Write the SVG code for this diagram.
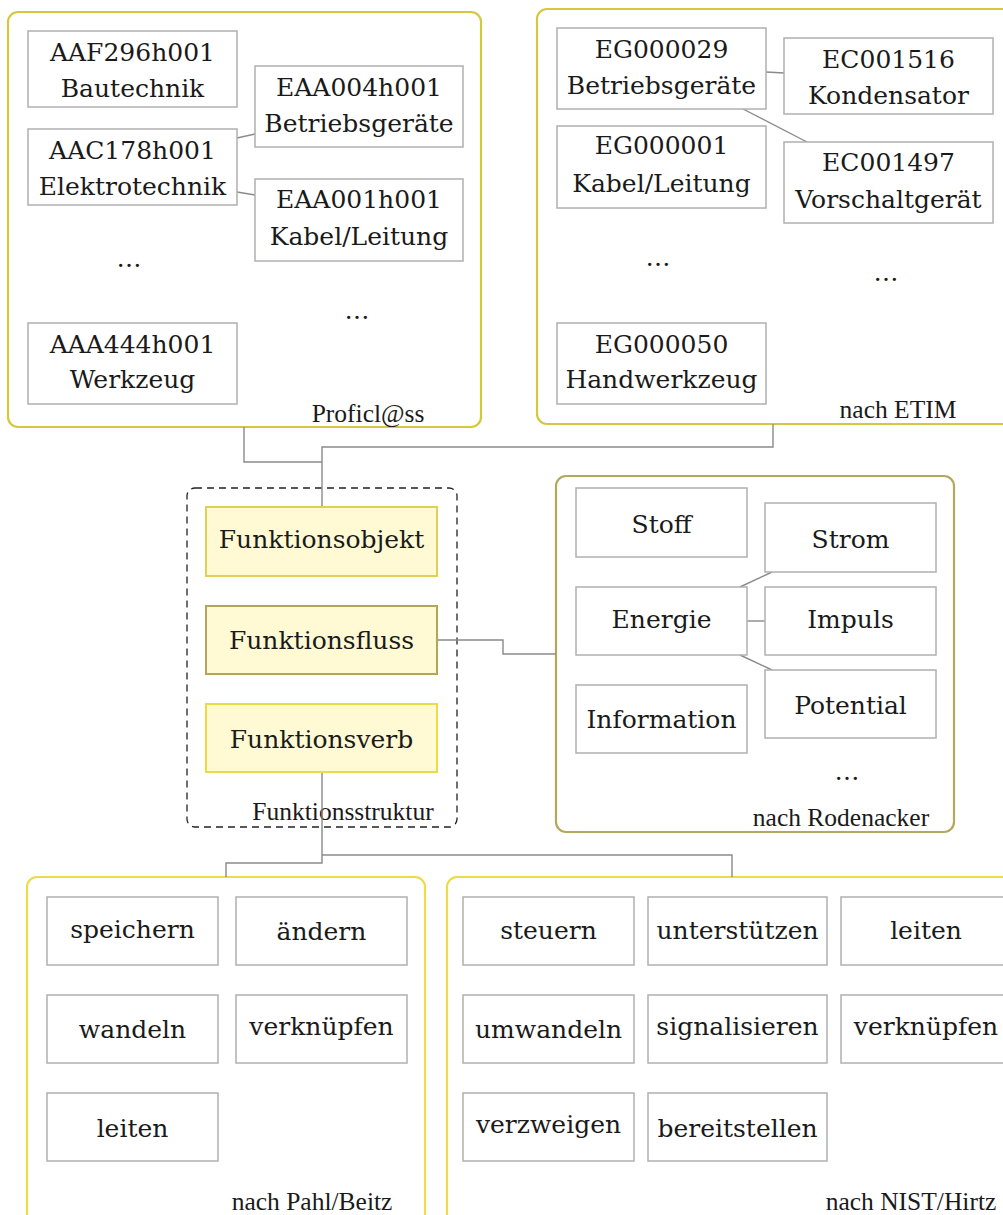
<svg xmlns="http://www.w3.org/2000/svg" width="1003" height="1215" viewBox="0 0 1003 1215">
  <style>
    .framelabel { font-family: "Liberation Serif", "Times New Roman", serif; font-size: 25.5px; text-anchor: middle; fill: #1a1a1a; }
    .box { fill: #ffffff; stroke: #b0b0b0; stroke-width: 1.5; }
    .grp { fill: none; stroke-width: 2.2; }
    .yel { stroke: #d6c83e; }
    .yel2 { stroke: #ecdc48; }
    .olv { stroke: #b4a85c; }
    .fn { fill: #fffad4; stroke-width: 2; }
    .dash { fill: none; stroke: #222222; stroke-width: 1.3; stroke-dasharray: 7 5; }
    .con { fill: none; stroke: #8a8a8a; stroke-width: 1.4; }
  </style>

  <!-- group frames -->
  <g id="proficlass">
    <rect class="grp yel" x="8" y="12" width="473" height="415" rx="10"/>
    <text class="framelabel" x="368" y="422">Proficl@ss</text>
  </g>
  <g id="etim">
    <rect class="grp yel" x="537" y="9" width="480" height="415" rx="10"/>
    <text class="framelabel" x="898" y="418">nach ETIM</text>
  </g>
  <g id="funktionsstruktur">
    <rect class="dash" x="187" y="488" width="270" height="339" rx="8"/>
    <text class="framelabel" x="343" y="820">Funktionsstruktur</text>
  </g>
  <g id="rodenacker">
    <rect class="grp olv" x="556" y="476" width="398" height="356" rx="10"/>
    <text class="framelabel" x="841" y="826">nach Rodenacker</text>
  </g>
  <g id="pahl-beitz">
    <rect class="grp yel2" x="27" y="877" width="398" height="360" rx="10"/>
    <text class="framelabel" x="312" y="1210">nach Pahl/Beitz</text>
  </g>
  <g id="nist-hirtz">
    <rect class="grp yel2" x="447" y="877" width="590" height="360" rx="10"/>
    <text class="framelabel" x="911" y="1210">nach NIST/Hirtz</text>
  </g>

  <!-- connectors -->
  <g id="connectors">
    <line class="con" x1="237" y1="138" x2="255" y2="134"/>
    <line class="con" x1="237" y1="192" x2="255" y2="195"/>
    <line class="con" x1="766" y1="72" x2="784" y2="73"/>
    <line class="con" x1="743" y1="109" x2="807" y2="142"/>
    <line class="con" x1="740" y1="587" x2="772" y2="572"/>
    <line class="con" x1="747" y1="621" x2="765" y2="621"/>
    <line class="con" x1="740" y1="655" x2="772" y2="670"/>
    <path class="con" d="M244 427 V462 H322"/>
    <path class="con" d="M773 424 V447 H322 V507"/>
    <path class="con" d="M437 640 H503 V654 H556"/>
    <path class="con" d="M322 772 V863 H226 V877"/>
    <path class="con" d="M322 855 H732 V877"/>
  </g>

  <!-- Proficl@ss classes -->
  <g id="aaf296">
    <rect class="box" x="28" y="31" width="209" height="76"/>
    <text font-family="DejaVu Serif" font-size="25" text-anchor="middle" fill="#1a1a1a" x="132.5" y="61">AAF296h001</text>
    <text font-family="DejaVu Serif" font-size="25" text-anchor="middle" fill="#1a1a1a" x="132.5" y="97">Bautechnik</text>
  </g>
  <g id="eaa004">
    <rect class="box" x="255" y="66" width="208" height="81"/>
    <text font-family="DejaVu Serif" font-size="25" text-anchor="middle" fill="#1a1a1a" x="359" y="96">EAA004h001</text>
    <text font-family="DejaVu Serif" font-size="25" text-anchor="middle" fill="#1a1a1a" x="359" y="132">Betriebsgeräte</text>
  </g>
  <g id="aac178">
    <rect class="box" x="28" y="129" width="209" height="76"/>
    <text font-family="DejaVu Serif" font-size="25" text-anchor="middle" fill="#1a1a1a" x="132.5" y="159">AAC178h001</text>
    <text font-family="DejaVu Serif" font-size="25" text-anchor="middle" fill="#1a1a1a" x="132.5" y="195">Elektrotechnik</text>
  </g>
  <g id="eaa001">
    <rect class="box" x="255" y="179" width="208" height="82"/>
    <text font-family="DejaVu Serif" font-size="25" text-anchor="middle" fill="#1a1a1a" x="359" y="208">EAA001h001</text>
    <text font-family="DejaVu Serif" font-size="25" text-anchor="middle" fill="#1a1a1a" x="359" y="245">Kabel/Leitung</text>
  </g>
  <g id="proficlass-more">
    <text font-family="DejaVu Serif" font-size="25" text-anchor="middle" fill="#1a1a1a" x="129" y="267">…</text>
    <text font-family="DejaVu Serif" font-size="25" text-anchor="middle" fill="#1a1a1a" x="357" y="319">…</text>
  </g>
  <g id="aaa444">
    <rect class="box" x="28" y="323" width="209" height="81"/>
    <text font-family="DejaVu Serif" font-size="25" text-anchor="middle" fill="#1a1a1a" x="132.5" y="353">AAA444h001</text>
    <text font-family="DejaVu Serif" font-size="25" text-anchor="middle" fill="#1a1a1a" x="132.5" y="388">Werkzeug</text>
  </g>

  <!-- ETIM classes -->
  <g id="eg000029">
    <rect class="box" x="557" y="28" width="209" height="81"/>
    <text font-family="DejaVu Serif" font-size="25" text-anchor="middle" fill="#1a1a1a" x="661.5" y="58">EG000029</text>
    <text font-family="DejaVu Serif" font-size="25" text-anchor="middle" fill="#1a1a1a" x="661.5" y="94">Betriebsgeräte</text>
  </g>
  <g id="ec001516">
    <rect class="box" x="784" y="38" width="209" height="76"/>
    <text font-family="DejaVu Serif" font-size="25" text-anchor="middle" fill="#1a1a1a" x="888.5" y="68">EC001516</text>
    <text font-family="DejaVu Serif" font-size="25" text-anchor="middle" fill="#1a1a1a" x="888.5" y="104">Kondensator</text>
  </g>
  <g id="eg000001">
    <rect class="box" x="557" y="126" width="209" height="82"/>
    <text font-family="DejaVu Serif" font-size="25" text-anchor="middle" fill="#1a1a1a" x="661.5" y="154">EG000001</text>
    <text font-family="DejaVu Serif" font-size="25" text-anchor="middle" fill="#1a1a1a" x="661.5" y="192">Kabel/Leitung</text>
  </g>
  <g id="ec001497">
    <rect class="box" x="784" y="142" width="209" height="81"/>
    <text font-family="DejaVu Serif" font-size="25" text-anchor="middle" fill="#1a1a1a" x="888.5" y="171">EC001497</text>
    <text font-family="DejaVu Serif" font-size="25" text-anchor="middle" fill="#1a1a1a" x="888.5" y="208">Vorschaltgerät</text>
  </g>
  <g id="etim-more">
    <text font-family="DejaVu Serif" font-size="25" text-anchor="middle" fill="#1a1a1a" x="658" y="266">…</text>
    <text font-family="DejaVu Serif" font-size="25" text-anchor="middle" fill="#1a1a1a" x="886" y="281">…</text>
  </g>
  <g id="eg000050">
    <rect class="box" x="557" y="323" width="209" height="81"/>
    <text font-family="DejaVu Serif" font-size="25" text-anchor="middle" fill="#1a1a1a" x="661.5" y="353">EG000050</text>
    <text font-family="DejaVu Serif" font-size="25" text-anchor="middle" fill="#1a1a1a" x="661.5" y="388">Handwerkzeug</text>
  </g>

  <!-- function structure -->
  <g id="funktionsobjekt">
    <rect class="fn" x="206" y="507" width="231" height="69" stroke="#e0d056"/>
    <text font-family="DejaVu Serif" font-size="25" text-anchor="middle" fill="#1a1a1a" x="321.5" y="548">Funktionsobjekt</text>
  </g>
  <g id="funktionsfluss">
    <rect class="fn" x="206" y="606" width="231" height="68" stroke="#b2a65a"/>
    <text font-family="DejaVu Serif" font-size="25" text-anchor="middle" fill="#1a1a1a" x="321.5" y="649">Funktionsfluss</text>
  </g>
  <g id="funktionsverb">
    <rect class="fn" x="206" y="704" width="231" height="68" stroke="#ecdc44"/>
    <text font-family="DejaVu Serif" font-size="25" text-anchor="middle" fill="#1a1a1a" x="321.5" y="748">Funktionsverb</text>
  </g>

  <!-- flows after Rodenacker -->
  <g id="stoff">
    <rect class="box" x="576" y="488" width="171" height="69"/>
    <text font-family="DejaVu Serif" font-size="25" text-anchor="middle" fill="#1a1a1a" x="661.5" y="533">Stoff</text>
  </g>
  <g id="strom">
    <rect class="box" x="765" y="503" width="171" height="69"/>
    <text font-family="DejaVu Serif" font-size="25" text-anchor="middle" fill="#1a1a1a" x="850.5" y="548">Strom</text>
  </g>
  <g id="energie">
    <rect class="box" x="576" y="587" width="171" height="68"/>
    <text font-family="DejaVu Serif" font-size="25" text-anchor="middle" fill="#1a1a1a" x="661.5" y="628">Energie</text>
  </g>
  <g id="impuls">
    <rect class="box" x="765" y="587" width="171" height="68"/>
    <text font-family="DejaVu Serif" font-size="25" text-anchor="middle" fill="#1a1a1a" x="850.5" y="628">Impuls</text>
  </g>
  <g id="information">
    <rect class="box" x="576" y="685" width="171" height="68"/>
    <text font-family="DejaVu Serif" font-size="25" text-anchor="middle" fill="#1a1a1a" x="661.5" y="728">Information</text>
  </g>
  <g id="potential">
    <rect class="box" x="765" y="670" width="171" height="68"/>
    <text font-family="DejaVu Serif" font-size="25" text-anchor="middle" fill="#1a1a1a" x="850.5" y="714">Potential</text>
  </g>
  <g id="rodenacker-more">
    <text font-family="DejaVu Serif" font-size="25" text-anchor="middle" fill="#1a1a1a" x="847" y="780">…</text>
  </g>

  <!-- verbs after Pahl/Beitz -->
  <g id="pb-speichern">
    <rect class="box" x="47" y="897" width="171" height="68"/>
    <text font-family="DejaVu Serif" font-size="25" text-anchor="middle" fill="#1a1a1a" x="132.5" y="938">speichern</text>
  </g>
  <g id="pb-aendern">
    <rect class="box" x="236" y="897" width="171" height="68"/>
    <text font-family="DejaVu Serif" font-size="25" text-anchor="middle" fill="#1a1a1a" x="321.5" y="940">ändern</text>
  </g>
  <g id="pb-wandeln">
    <rect class="box" x="47" y="995" width="171" height="68"/>
    <text font-family="DejaVu Serif" font-size="25" text-anchor="middle" fill="#1a1a1a" x="132.5" y="1038">wandeln</text>
  </g>
  <g id="pb-verknuepfen">
    <rect class="box" x="236" y="995" width="171" height="68"/>
    <text font-family="DejaVu Serif" font-size="25" text-anchor="middle" fill="#1a1a1a" x="321.5" y="1035">verknüpfen</text>
  </g>
  <g id="pb-leiten">
    <rect class="box" x="47" y="1093" width="171" height="68"/>
    <text font-family="DejaVu Serif" font-size="25" text-anchor="middle" fill="#1a1a1a" x="132.5" y="1137">leiten</text>
  </g>

  <!-- verbs after NIST/Hirtz -->
  <g id="nh-steuern">
    <rect class="box" x="463" y="897" width="171" height="68"/>
    <text font-family="DejaVu Serif" font-size="25" text-anchor="middle" fill="#1a1a1a" x="548.5" y="939">steuern</text>
  </g>
  <g id="nh-unterstuetzen">
    <rect class="box" x="648" y="897" width="179" height="68"/>
    <text font-family="DejaVu Serif" font-size="25" text-anchor="middle" fill="#1a1a1a" x="737.5" y="939">unterstützen</text>
  </g>
  <g id="nh-leiten">
    <rect class="box" x="841" y="897" width="172" height="68"/>
    <text font-family="DejaVu Serif" font-size="25" text-anchor="middle" fill="#1a1a1a" x="926" y="939">leiten</text>
  </g>
  <g id="nh-umwandeln">
    <rect class="box" x="463" y="995" width="171" height="68"/>
    <text font-family="DejaVu Serif" font-size="25" text-anchor="middle" fill="#1a1a1a" x="548.5" y="1038">umwandeln</text>
  </g>
  <g id="nh-signalisieren">
    <rect class="box" x="648" y="995" width="179" height="68"/>
    <text font-family="DejaVu Serif" font-size="25" text-anchor="middle" fill="#1a1a1a" x="737.5" y="1035">signalisieren</text>
  </g>
  <g id="nh-verknuepfen">
    <rect class="box" x="841" y="995" width="172" height="68"/>
    <text font-family="DejaVu Serif" font-size="25" text-anchor="middle" fill="#1a1a1a" x="926" y="1035">verknüpfen</text>
  </g>
  <g id="nh-verzweigen">
    <rect class="box" x="463" y="1093" width="171" height="68"/>
    <text font-family="DejaVu Serif" font-size="25" text-anchor="middle" fill="#1a1a1a" x="548.5" y="1133">verzweigen</text>
  </g>
  <g id="nh-bereitstellen">
    <rect class="box" x="648" y="1093" width="179" height="68"/>
    <text font-family="DejaVu Serif" font-size="25" text-anchor="middle" fill="#1a1a1a" x="737.5" y="1137">bereitstellen</text>
  </g>
</svg>
